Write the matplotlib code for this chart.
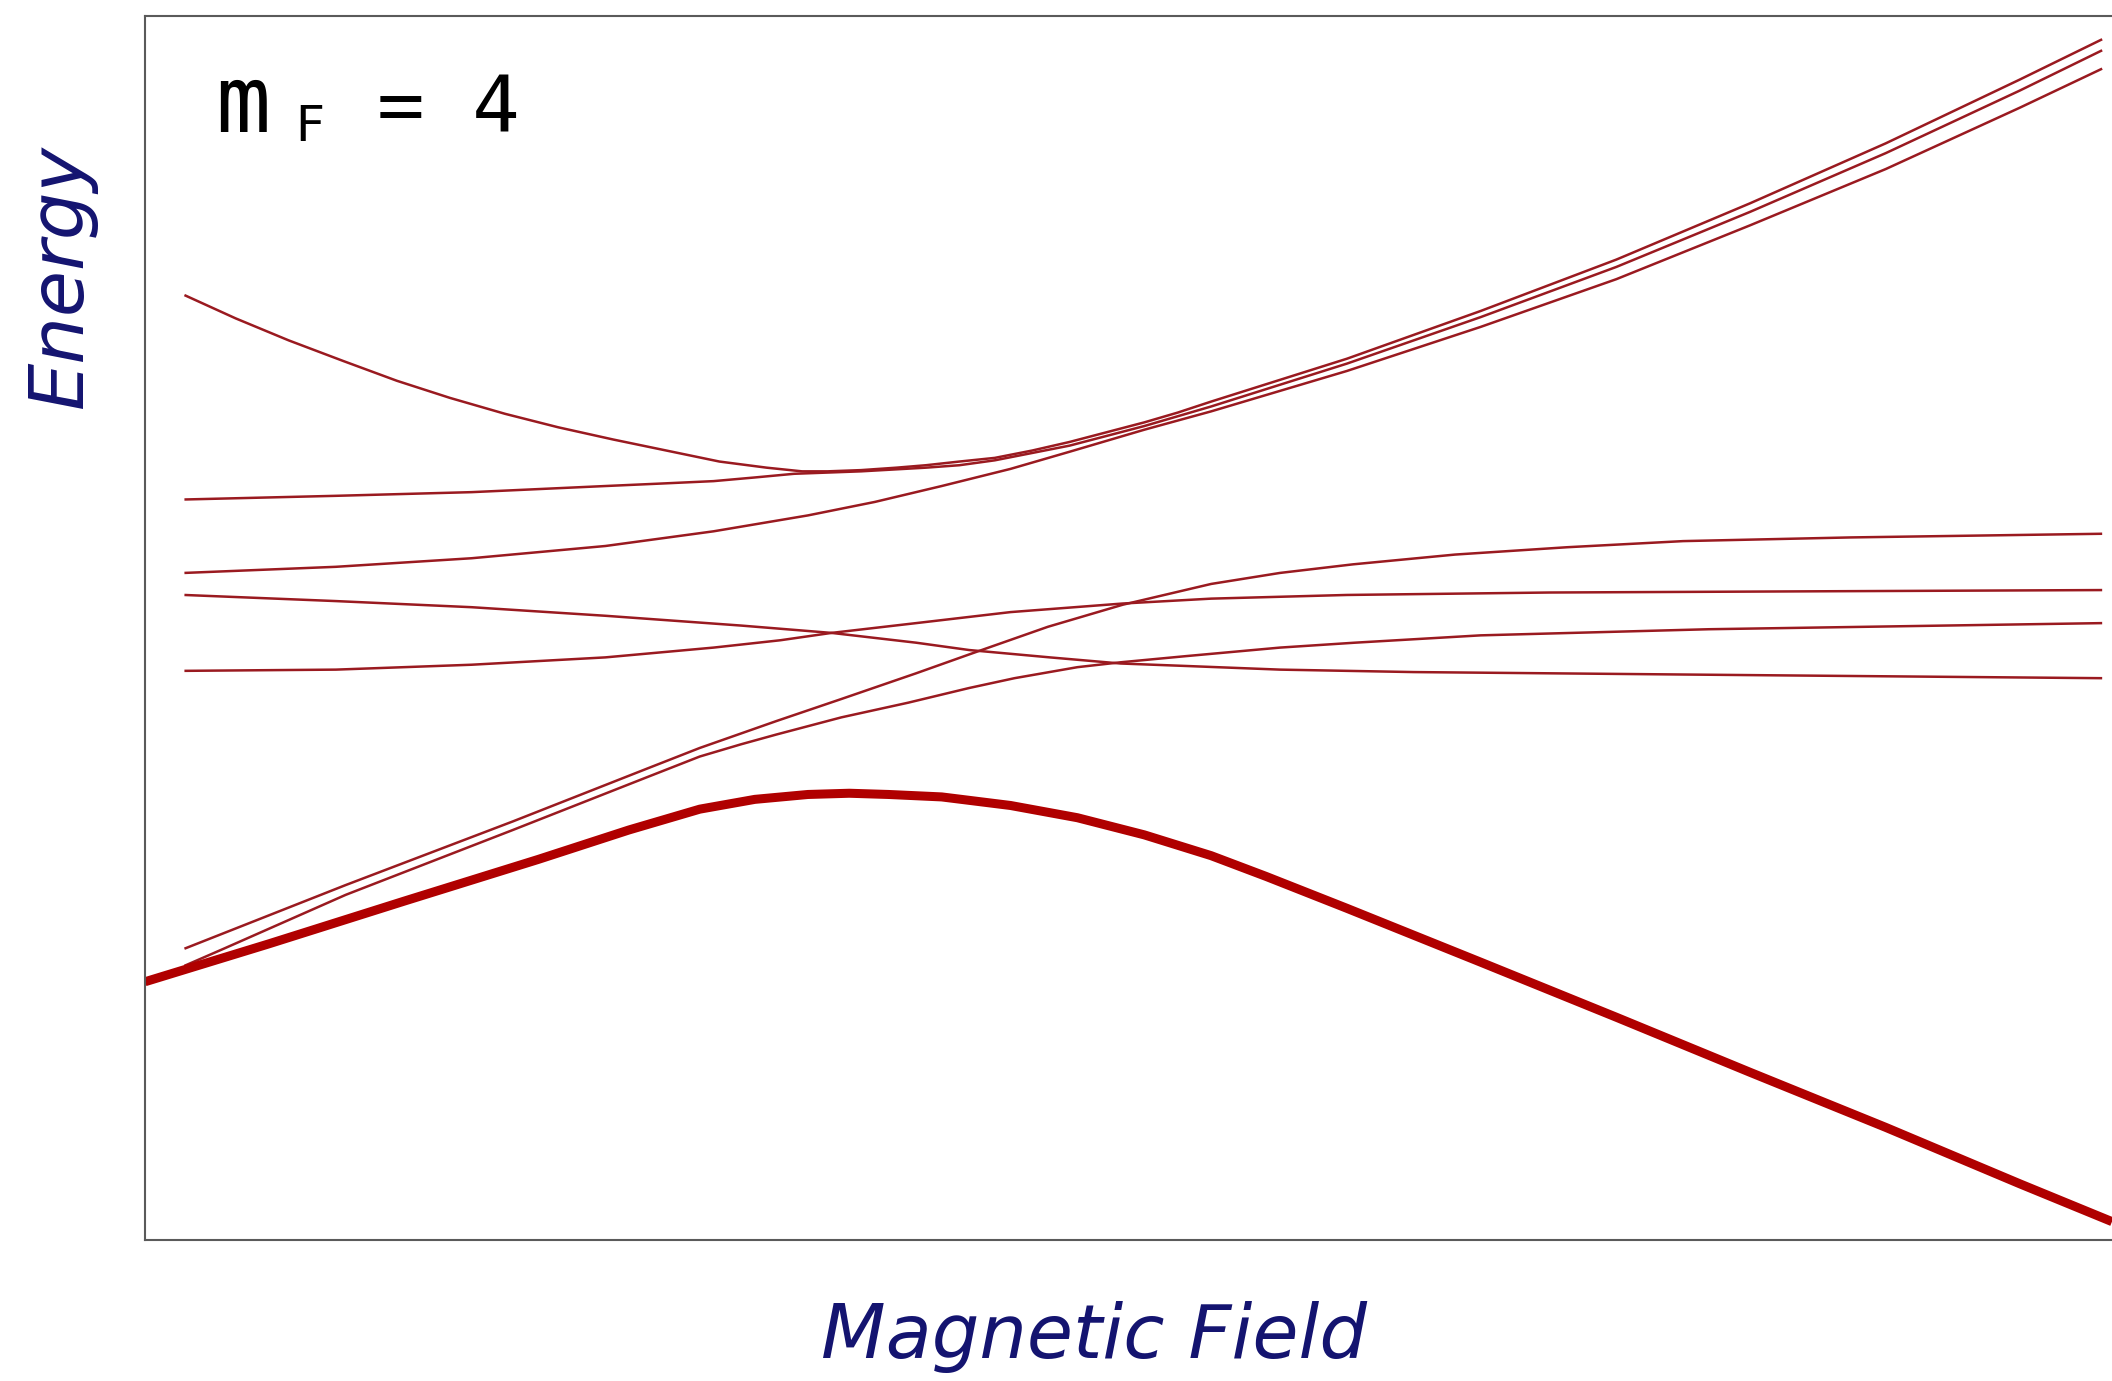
import matplotlib.pyplot as plt

# energy levels vs field, arbitrary units (field 0..10, energy 0..10)
# thick line = entrance channel
thick_x = [0.00, 0.63, 1.32, 2.00, 2.46, 2.82, 3.10, 3.37, 3.58, 3.78, 4.05, 4.40, 4.74, 5.08, 5.42, 5.70, 6.11, 6.79, 7.48, 8.16, 8.85, 9.53, 10.0]
thick_y = [2.11, 2.42, 2.77, 3.11, 3.35, 3.52, 3.60, 3.64, 3.65, 3.64, 3.62, 3.55, 3.45, 3.31, 3.14, 2.97, 2.71, 2.27, 1.82, 1.37, 0.92, 0.46, 0.15]

l1_x = [0.20, 0.46, 0.73, 1.01, 1.28, 1.55, 1.83, 2.10, 2.38, 2.65, 2.92, 3.16, 3.34, 3.47, 3.64, 3.82, 3.97, 4.14,
        4.32, 4.51, 4.70, 4.89, 5.08, 5.25, 5.42, 6.11, 6.79, 7.48, 8.16, 8.85, 9.53, 9.95]
l1_y = [7.72, 7.53, 7.35, 7.18, 7.02, 6.88, 6.75, 6.64, 6.54, 6.45, 6.36, 6.31, 6.28, 6.28, 6.29, 6.31, 6.33, 6.36,
        6.39, 6.45, 6.52, 6.60, 6.68, 6.76, 6.85, 7.20, 7.59, 8.01, 8.47, 8.96, 9.48, 9.81]

l2_x = [0.20, 0.97, 1.66, 2.34, 2.62, 2.89, 3.10, 3.30, 3.64, 3.97, 4.14, 4.32, 4.51, 4.70, 5.08, 5.42, 6.11, 6.79, 7.48, 8.16, 8.85, 9.53, 9.95]
l2_y = [6.05, 6.08, 6.11, 6.16, 6.18, 6.20, 6.23, 6.26, 6.28, 6.31, 6.33, 6.37, 6.43, 6.49, 6.65, 6.81, 7.16, 7.54, 7.95, 8.40, 8.88, 9.39, 9.72]

l3_x = [0.20, 0.97, 1.66, 2.34, 2.89, 3.37, 3.71, 4.05, 4.40, 4.70, 5.08, 5.42, 6.11, 6.79, 7.48, 8.16, 8.85, 9.53, 9.95]
l3_y = [5.45, 5.50, 5.57, 5.67, 5.79, 5.92, 6.03, 6.16, 6.30, 6.44, 6.62, 6.77, 7.10, 7.46, 7.85, 8.29, 8.75, 9.25, 9.57]

l4_x = [0.20, 0.97, 1.66, 2.34, 3.03, 3.49, 3.92, 4.19, 4.60, 4.96, 5.29, 5.77, 6.45, 7.82, 9.95]
l4_y = [5.27, 5.22, 5.17, 5.10, 5.02, 4.96, 4.88, 4.82, 4.76, 4.71, 4.69, 4.66, 4.64, 4.62, 4.59]

l5_x = [0.20, 0.97, 1.66, 2.34, 2.89, 3.23, 3.49, 3.92, 4.40, 4.97, 5.42, 6.11, 7.14, 8.51, 9.95]
l5_y = [4.65, 4.66, 4.70, 4.76, 4.84, 4.90, 4.96, 5.04, 5.13, 5.20, 5.24, 5.27, 5.29, 5.30, 5.31]

l6_x = [0.20, 1.02, 1.87, 2.55, 2.82, 3.21, 3.54, 3.92, 4.20, 4.59, 4.97, 5.42, 5.77, 6.14, 6.66, 7.23, 7.82, 8.67, 9.95]
l6_y = [2.38, 2.90, 3.42, 3.85, 4.02, 4.24, 4.42, 4.63, 4.79, 5.01, 5.19, 5.36, 5.45, 5.52, 5.60, 5.66, 5.71, 5.74, 5.77]

l7_x = [0.20, 0.40, 1.02, 1.87, 2.55, 2.82, 3.03, 3.21, 3.54, 3.88, 4.19, 4.42, 4.74, 4.96, 5.29, 5.77, 6.15, 6.79, 7.95, 9.95]
l7_y = [2.24, 2.38, 2.82, 3.35, 3.78, 3.95, 4.05, 4.13, 4.27, 4.39, 4.51, 4.59, 4.68, 4.72, 4.77, 4.84, 4.88, 4.94, 4.99, 5.04]

thin_lines = [(l1_x, l1_y), (l2_x, l2_y), (l3_x, l3_y), (l4_x, l4_y),
              (l5_x, l5_y), (l6_x, l6_y), (l7_x, l7_y)]

fig = plt.figure(figsize=(21.12, 13.81), dpi=100)
ax = fig.add_axes([0.0687, 0.1021, 0.9313, 0.8863])

for x, y in thin_lines:
    ax.plot(x, y, color='#9a1a20', lw=1.8, solid_capstyle='butt', solid_joinstyle='round')
ax.plot(thick_x, thick_y, color='#b00000', lw=6.5, solid_capstyle='butt', solid_joinstyle='round')

ax.set_xlim(0, 10)
ax.set_ylim(0, 10)
ax.set_xticks([])
ax.set_yticks([])
for side in ['left', 'bottom', 'top']:
    ax.spines[side].set_color('#5a5a5a')
    ax.spines[side].set_linewidth(1.5)
ax.spines['right'].set_visible(False)

# m_F label
ax.text(0.0356, 0.905, 'm', transform=ax.transAxes, family='DejaVu Sans Mono',
        fontsize=66, va='baseline', ha='left', color='black')
ax.text(0.0757, 0.898, 'F', transform=ax.transAxes, family='DejaVu Sans Mono',
        fontsize=36, va='baseline', ha='left', color='black')
ax.text(0.118, 0.905, '= 4', transform=ax.transAxes, family='DejaVu Sans Mono',
        fontsize=57, va='baseline', ha='left', color='black')

lab = dict(family='DejaVu Sans', style='italic', weight='light', color='#141470', fontsize=54)
fig.text(0.518, 0.0318, 'Magnetic Field', ha='center', va='center', **lab)
fig.text(0.0287, 0.800, 'Energy', ha='center', va='center', rotation=90, **lab)

fig.savefig('out.png', dpi=100)
print('finish')
